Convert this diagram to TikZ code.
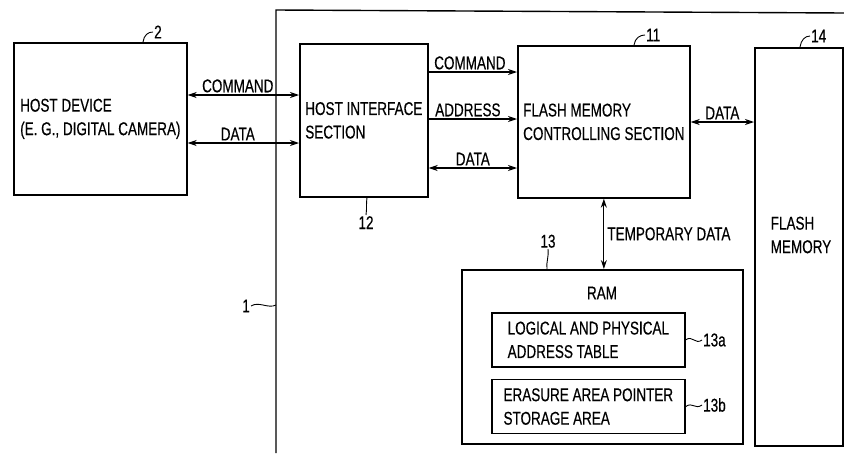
\documentclass[tikz,border=0pt]{standalone}
\usepackage{fontspec}
\setmainfont[FakeStretch=0.73, FakeBold=0.4]{Liberation Sans}
\usetikzlibrary{positioning,arrows.meta}

\tikzset{
  blockbox/.style={draw, line width=1.7pt, align=left, anchor=north west, inner sep=0pt},
  link/.style={line width=1.1pt},
  leader/.style={line width=0.9pt},
  tag/.style={inner sep=1pt},
  linklabel/.style={inner sep=2pt},
}

\begin{document}
\begin{tikzpicture}[x=1pt, y=-1pt, >={Stealth[length=9pt,width=6pt]}, font=\fontsize{18.5}{23.5}\selectfont]
  \useasboundingbox (0,0) rectangle (844,453);

  % frame of the card, cut off at the right and at the bottom
  \draw[line width=1.4pt] (276,453) -- (276,10) -- (844,13);
  \coordinate (frame1) at (276,305);

  % blocks
  \node (host) [blockbox, minimum width=173pt, minimum height=152pt] at (13,42) {HOST DEVICE\\(E. G., DIGITAL CAMERA)};
  \node (his) [blockbox, minimum width=128pt, minimum height=153pt] at (299,43) {HOST INTERFACE\\SECTION};
  \node (fmc) [blockbox, minimum width=172pt, minimum height=152pt] at (517,45) {FLASH MEMORY\\CONTROLLING SECTION};
  \node (flash) [blockbox, minimum width=88pt, minimum height=398pt] at (754,47) {};
  \node (flashtitle) [align=left] at (801,235) {FLASH\\MEMORY};
  \node (ram) [blockbox, minimum width=281pt, minimum height=174pt] at (461,269) {};
  \node (ramtitle) at (602,293) {RAM};
  \node (tbl) [blockbox, minimum width=193pt, minimum height=54pt] at (491,312) {LOGICAL AND PHYSICAL\\ADDRESS TABLE};
  \node (ptr) [blockbox, minimum width=193pt, minimum height=54pt, below=11pt of tbl] {ERASURE AREA POINTER\\STORAGE AREA};

  % heights of the horizontal links
  \coordinate (yHostCmd) at (0,95);
  \coordinate (yHostData) at (0,143);
  \coordinate (yCmd) at (0,72);
  \coordinate (yAddr) at (0,119);
  \coordinate (yData) at (0,168);
  \coordinate (yFlash) at (0,122);

  % links
  \draw[link, <->] (host.east |- yHostCmd) -- node[linklabel, above, pos=0.45] (lHostCmd) {COMMAND} (his.west |- yHostCmd);
  \draw[link, <->] (host.east |- yHostData) -- node[linklabel, above, pos=0.45] (lHostData) {DATA} (his.west |- yHostData);
  \draw[link, ->] (his.east |- yCmd) -- node[linklabel, pos=0, anchor=south west, inner xsep=5pt] (lCmd) {COMMAND} (fmc.west |- yCmd);
  \draw[link, ->] (his.east |- yAddr) -- node[linklabel, pos=0, anchor=south west, inner xsep=6pt] (lAddr) {ADDRESS} (fmc.west |- yAddr);
  \draw[link, <->] (his.east |- yData) -- node[linklabel, above] (lData) {DATA} (fmc.west |- yData);
  \draw[link, <->] (fmc.east |- yFlash) -- node[linklabel, above] (lFlash) {DATA} (flash.west |- yFlash);
  \draw[link, <->] (fmc.south) -- node[right, inner xsep=3pt] (lTemp) {TEMPORARY DATA} (fmc.south |- ram.north);

  % reference numerals
  \node (num2) [tag, anchor=west] at (153,32) {2};
  \node (num11) [tag, anchor=west] at (645,35) {11};
  \node (num14) [tag, anchor=west] at (810,36) {14};
  \node (num12) [tag, anchor=north] at (366,215) {12};
  \node (num13) [tag, anchor=south] at (548,249) {13};
  \node (num13a) [tag, anchor=west] at (702,340) {13a};
  \node (num13b) [tag, anchor=west] at (702,405) {13b};
  \node (num1) [tag, anchor=east] at (251,306) {1};

  \draw[leader] ([xshift=130pt]host.north west) .. controls +(1,-7) and +(-5,0) .. (num2.west);
  \draw[leader] ([xshift=117pt]fmc.north west) .. controls +(1,-7) and +(-5,0) .. (num11.west);
  \draw[leader] ([xshift=46pt]flash.north west) .. controls +(1,-7) and +(-5,0) .. (num14.west);
  \draw[leader] ([xshift=68pt]his.south west) .. controls +(-1,8) and +(1,-7) .. (num12.north);
  \draw[leader] (num13.south) .. controls +(1,8) and +(-1,-7) .. ([xshift=86pt]ram.north west);
  \draw[leader] (tbl.east) .. controls +(7,-5) and +(-7,5) .. (num13a.west);
  \draw[leader] (ptr.east) .. controls +(7,-5) and +(-7,5) .. (num13b.west);
  \draw[leader] (num1.east) .. controls +(8,-5) and +(-8,4) .. (frame1);

\end{tikzpicture}
\end{document}
